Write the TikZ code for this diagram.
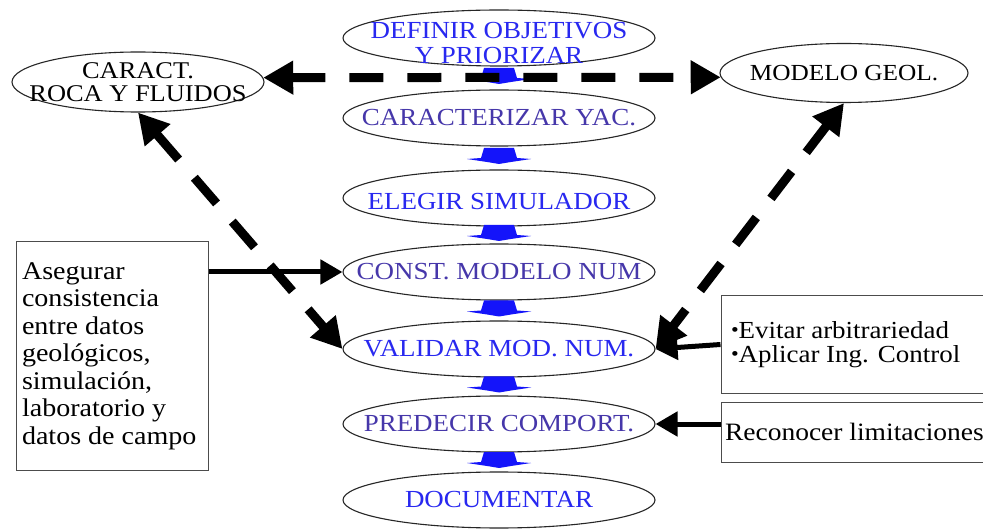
\documentclass[tikz,border=0pt]{standalone}
\usepackage{fontspec}
\setmainfont{Liberation Serif}[FakeStretch=1.1]
\usetikzlibrary{shapes.geometric,arrows.meta,calc}
\definecolor{txtblue}{RGB}{40,40,240}
\definecolor{txtindigo}{RGB}{70,55,170}
\definecolor{arrblue}{RGB}{20,20,250}
\begin{document}
\begin{tikzpicture}[x=1pt,y=-1pt,
  stepell/.style={draw=black!85,line width=1.1pt,ellipse,minimum width=312pt,minimum height=56pt,inner sep=0pt},
  steptxt/.style={align=center,inner sep=0pt,font=\fontsize{24.5}{25.5}\selectfont},
  sideell/.style={draw=black!85,line width=1.1pt,ellipse,inner sep=0pt},
  sidetxt/.style={align=center,inner sep=0pt,text=black,font=\fontsize{24}{23}\selectfont},
  notebox/.style={draw=black!70,line width=1pt,rectangle,inner sep=0pt,font=\fontsize{25.5}{27.5}\selectfont},
  dasharrow/.style={line width=9pt,dash pattern=on 34pt off 24pt,{Triangle[length=30pt,width=32pt]}-{Triangle[length=30pt,width=32pt]}},
  solidarrow/.style={line width=5pt,-{Triangle[length=22pt,width=24pt]}},
  bluearrow/.pic={\fill[arrblue] (-15,-10) -- (15,-10) -- (18,0) -- (32,1) -- (12,4) -- (0,6) -- (-12,4) -- (-32,1) -- (-18,0) -- cycle;}
]
\useasboundingbox (0,0) rectangle (983,529);
\fill[white] (0,0) rectangle (983,529);

% central steps
\node[stepell,label={[steptxt,text=txtblue,yshift=-5pt]center:DEFINIR OBJETIVOS\\Y PRIORIZAR}] (s1) at (499,38) {};
\node[stepell,label={[steptxt,text=txtindigo]center:CARACTERIZAR YAC.}] (s2) at (499,118) {};
\node[stepell,label={[steptxt,text=txtblue,yshift=-4pt]center:ELEGIR SIMULADOR}] (s3) at (499,198) {};
\node[stepell,label={[steptxt,text=txtindigo]center:CONST. MODELO NUM}] (s4) at (499,272) {};
\node[stepell,label={[steptxt,text=txtblue]center:VALIDAR MOD. NUM.}] (s5) at (499,349) {};
\node[stepell,label={[steptxt,text=txtindigo]center:PREDECIR COMPORT.}] (s6) at (499,424) {};
\node[stepell,label={[steptxt,text=txtblue]center:DOCUMENTAR}] (s7) at (499,500) {};

% blue flow arrows
\foreach \a/\b in {s1/s2,s2/s3,s3/s4,s4/s5,s5/s6,s6/s7}
  \pic at ($(\a.south)!0.5!(\b.north)$) {bluearrow};

% side ellipses
\node[sideell,minimum width=252pt,minimum height=60pt,label={[sidetxt]center:CARACT.\\ROCA Y FLUIDOS}] (rf) at (138,82) {};
\node[sideell,minimum width=248pt,minimum height=59pt,label={[sidetxt,font=\fontsize{23}{24}\selectfont]center:MODELO GEOL.}] (mg) at (844,73) {};

% note boxes
\node[notebox,minimum width=192pt,minimum height=228pt] (asg) at (112,356)
  {\begin{minipage}{180pt}\raggedright Asegurar\\consistencia\\entre datos\\geológicos,\\simulación,\\laboratorio y\\datos de campo\end{minipage}};
\node[notebox,minimum width=270pt,minimum height=97pt] (evt) at (856,344.5)
  {\begin{minipage}{250pt}\fontsize{24.5}{24}\selectfont\raisebox{2pt}{\fontsize{20}{20}\selectfont\textbullet}Evitar arbitrariedad\\\raisebox{2pt}{\fontsize{20}{20}\selectfont\textbullet}Aplicar Ing. Control\end{minipage}};
\node[notebox,minimum width=270pt,minimum height=60pt] (rec) at (856,432)
  {\begin{minipage}{262pt}\fontsize{25}{26}\selectfont\raisebox{-5pt}{Reconocer limitaciones}\end{minipage}};

% dashed double arrows
\draw[dasharrow] (rf.2) -- (mg.182);
\draw[dasharrow] (rf.south) -- (s5.west);
\draw[dasharrow] (mg.south) -- (s5.east);

% solid arrows
\draw[solidarrow] (asg.east |- s4.west) -- (s4.west);
\draw[solidarrow] (evt.west) -- (s5.east);
\draw[solidarrow] (rec.west |- s6.east) -- (s6.east);
\end{tikzpicture}
\end{document}
